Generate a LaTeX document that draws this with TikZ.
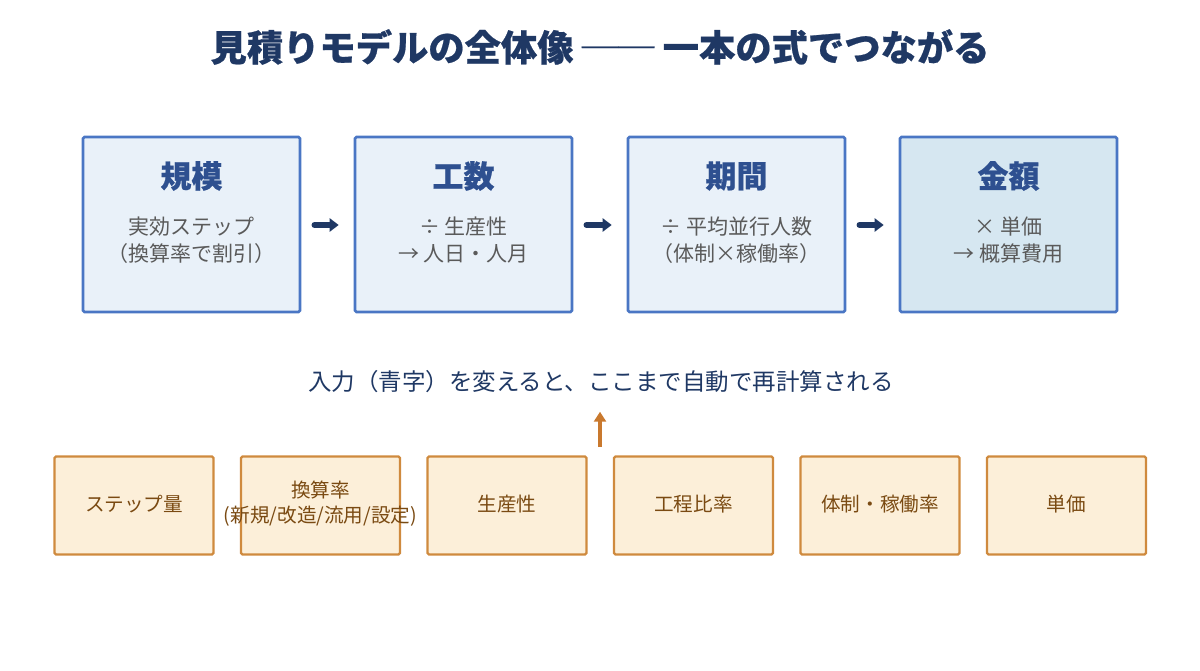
\documentclass[tikz,border=0pt]{standalone}
\usepackage{fontspec}
\setmainfont{Noto Sans CJK JP}
\newfontfamily\heavyfont[BoldFeatures={FakeBold=0.6}]{Noto Sans CJK JP}
\usetikzlibrary{arrows.meta}
\definecolor{navy}{HTML}{1F3864}
\definecolor{headblue}{HTML}{2E5090}
\definecolor{boxborder}{HTML}{4A76C4}
\definecolor{boxfill}{HTML}{E9F1F9}
\definecolor{boxfilldark}{HTML}{D6E7F1}
\definecolor{subgray}{HTML}{5A5A5A}
\definecolor{infill}{HTML}{FCEFD9}
\definecolor{inborder}{HTML}{CF8A3E}
\definecolor{intext}{HTML}{7A4A12}
\definecolor{orarrow}{HTML}{C9792E}
\tikzset{
  stagebox/.style={draw=boxborder, fill=boxfill, line width=2.6pt, rounded corners=1.5pt,
    minimum width=217pt, minimum height=175pt, inner sep=0pt},
  stagehead/.style={text=headblue, font=\fontsize{31}{34}\selectfont\heavyfont\bfseries},
  stagesub/.style={text=subgray, font=\fontsize{21}{27}\selectfont, align=center},
  flowarrow/.style={draw=navy, line width=5.5pt, line cap=round, -{Triangle[length=9pt,width=13pt]},
    shorten <=13pt, shorten >=15pt},
  inbox/.style={draw=inborder, fill=infill, line width=2.2pt, rounded corners=1.5pt,
    minimum width=159pt, minimum height=98pt, inner sep=0pt},
  intextst/.style={text=intext, font=\fontsize{19.6}{25}\selectfont, align=center},
}
\begin{document}
\begin{tikzpicture}[x=1pt,y=-1pt]
\useasboundingbox (0,0) rectangle (1200,671);
% title
\node[text=navy, font=\fontsize{36.3}{40}\selectfont\heavyfont\bfseries] (title) at (600,47)
  {見積りモデルの全体像 ── 一本の式でつながる};
% stage boxes
\node[stagebox] (b1) at (191.5,224.5) {};
\node[stagebox] (b2) at (463.5,224.5) {};
\node[stagebox] (b3) at (736.5,224.5) {};
\node[stagebox, fill=boxfilldark] (b4) at (1008.5,224.5) {};
\node[stagehead] (h1) at (191.5,176) {規模};
\node[stagehead] (h2) at (463.5,176) {工数};
\node[stagehead] (h3) at (736.5,176) {期間};
\node[stagehead] (h4) at (1008.5,176) {金額};
\node[stagesub] (s1) at (191.5,240) {実効ステップ\\（換算率で割引）};
\node[stagesub] (s2) at (463.5,240) {÷ 生産性\\→ 人日・人月};
\node[stagesub] (s3) at (736.5,240) {÷ 平均並行人数\\（体制×稼働率）};
\node[stagesub] (s4) at (1008.5,240) {× 単価\\→ 概算費用};
\draw[flowarrow] (b1.east |- 0,225) -- (b2.west |- 0,225);
\draw[flowarrow] (b2.east |- 0,225) -- (b3.west |- 0,225);
\draw[flowarrow] (b3.east |- 0,225) -- (b4.west |- 0,225);
% middle label
\node[text=navy, font=\fontsize{23.5}{27}\selectfont] (mid) at (601,382)
  {入力（青字）を変えると、ここまで自動で再計算される};
\coordinate (arrstart) at (600,447);
\draw[draw=orarrow, line width=3.6pt, -{Triangle[length=10pt,width=12pt]}, shorten >=15pt]
  (arrstart) -- (arrstart |- mid.south);
% input boxes
\node[inbox] (i1) at (134,505.5) {};
\node[inbox] (i2) at (320.5,505.5) {};
\node[inbox] (i3) at (507,505.5) {};
\node[inbox] (i4) at (693.5,505.5) {};
\node[inbox] (i5) at (880,505.5) {};
\node[inbox] (i6) at (1066.5,505.5) {};
\node[intextst] (t1) at (134,504) {ステップ量};
\node[intextst] (t2) at (320.5,504) {換算率\\(新規/改造/流用/設定)};
\node[intextst] (t3) at (507,504) {生産性};
\node[intextst] (t4) at (693.5,504) {工程比率};
\node[intextst] (t5) at (880,504) {体制・稼働率};
\node[intextst] (t6) at (1066.5,504) {単価};
\end{tikzpicture}
\end{document}
